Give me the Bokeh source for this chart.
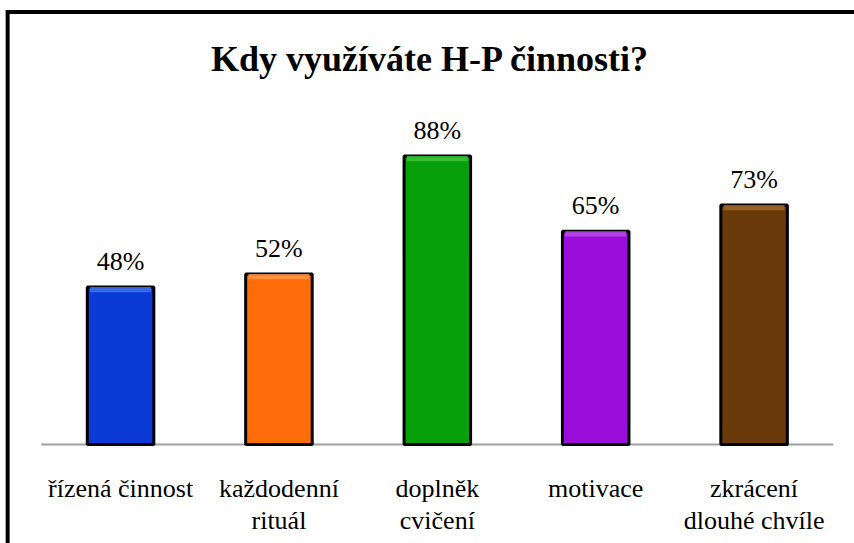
from bokeh.plotting import figure
from bokeh.models import ColumnDataSource, Range1d, Label
from bokeh.core.properties import value
from bokeh.embed import file_html
from bokeh.resources import INLINE

title_text = "Kdy využíváte H-P činnosti?"
categories = ["řízená činnost", "každodenní\nrituál", "doplněk\ncvičení", "motivace", "zkrácení\ndlouhé chvíle"]
values = [48, 52, 88, 65, 73]
value_labels = ["48%", "52%", "88%", "65%", "73%"]
colors = ["#0b3ad6", "#ff6d0a", "#07a00b", "#9b0dd9", "#6b3a0a"]
highlights = ["#3f72f2", "#ff9845", "#3cc43c", "#bb4cee", "#a0662e"]

SERIF = "Liberation Serif"

n = len(categories)
idx = list(range(n))
src = ColumnDataSource(dict(
    x=idx, top=values, color=colors, hl=highlights, lab=value_labels,
    cat=categories, zero=[0] * n,
    hl_bottom=[v - 1.6 for v in values],
))

W, H = 854, 543
p = figure(width=W, height=H, output_backend="svg", toolbar_location=None,
           x_range=Range1d(-0.758, 4.634), y_range=Range1d(-30.2, 135.4),
           min_border=0, min_border_left=0, min_border_right=0,
           min_border_top=0, min_border_bottom=0)
p.xaxis.visible = False
p.yaxis.visible = False
p.grid.visible = False
p.outline_line_color = None
p.background_fill_color = "white"
p.border_fill_color = "white"

# outer frame (left and top visible, others run off the canvas)
p.line(x=[-0.713, -0.713, 20], y=[-200, 131.9, 131.9],
       line_color="black", line_width=4, line_join="miter")

# baseline
p.line(x=[-0.5, n - 0.5], y=[0, 0], line_color="#a0a0a0", line_width=2)

# bars
p.vbar(x="x", top="top", bottom="zero", width=0.42, source=src,
       fill_color="color", line_color="black", line_width=3)
# top bevel highlight
p.vbar(x="x", top="top", bottom="hl_bottom", width=0.385, source=src,
       fill_color="hl", line_color=None, fill_alpha=0.85)

# value labels
p.text(x="x", y="top", text="lab", source=src, text_align="center",
       text_baseline="bottom", y_offset=-11,
       text_font=value(SERIF), text_font_size="26px",
       text_color="black")

# category labels
p.text(x="x", y="zero", text="cat", source=src, text_align="center",
       text_baseline="top", y_offset=30, text_line_height=1.1,
       text_font=value(SERIF), text_font_size="26px",
       text_color="black")

p.add_layout(Label(x=1.957, y=117.7, text=title_text, text_align="center",
                   text_baseline="middle", text_font=SERIF,
                   text_font_style="bold", text_font_size="36px",
                   text_color="black"))

open("out.html", "w").write(file_html(p, INLINE))
